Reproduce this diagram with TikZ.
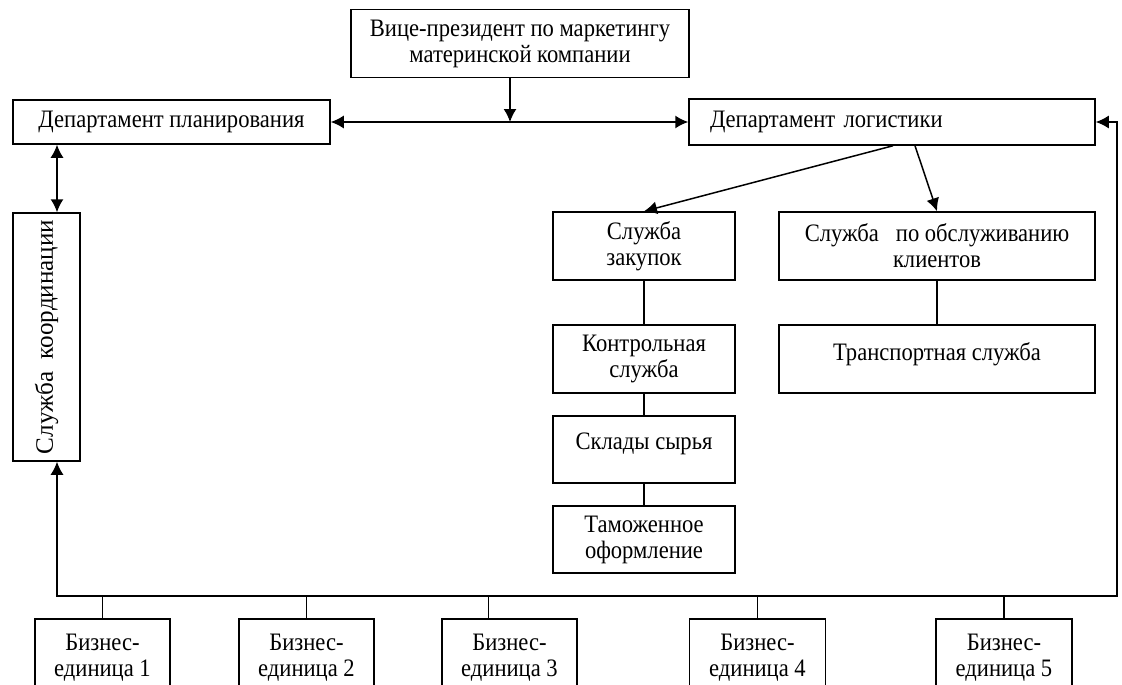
\documentclass[tikz,border=0pt]{standalone}
\usepackage{fontspec}
\setmainfont{Liberation Serif}[FakeStretch=0.9]
\newfontfamily\plainserif{Liberation Serif}
\usepackage{graphicx}
\usetikzlibrary{arrows.meta}

\begin{document}
\begin{tikzpicture}[x=1pt,y=-1pt,
  every node/.style={font=\fontsize{25.1}{26}\selectfont},
  unit/.style={draw, line width=1.5pt, inner sep=0pt, align=center},
  bunit/.style={unit, minimum width=135pt, minimum height=78pt},
  link/.style={line width=1.5pt},
  arr/.style={line width=1.5pt, -{Latex[length=13pt,width=13pt]}},
  darr/.style={line width=1.5pt, {Latex[length=13pt,width=13pt]}-{Latex[length=13pt,width=13pt]}}]

\useasboundingbox (0,0) rectangle (1122,685);
\clip (0,0) rectangle (1122,685);

% top level
\node[unit, minimum width=338pt, minimum height=68pt] (vp) at (520,43.5)
  {Вице-президент по маркетингу\\материнской компании};
\node[unit, minimum width=317pt, minimum height=44pt] (plan) at (171.5,122)
  {Департамент планирования};
\node[unit, inner xsep=21pt, text width=364pt, align=left, minimum height=46pt] (log) at (892,122)
  {Департамент логистики};

% coordination column
\node[unit, minimum width=67pt, minimum height=248pt] (coord) at (46.5,337)
  {\rotatebox{90}{\plainserif Служба\ \ координации}};

% logistics subdivisions
\node[unit, minimum width=182pt, minimum height=68pt] (zak) at (644,246) {Служба\\закупок};
\node[unit, minimum width=316pt, minimum height=68pt] (kli) at (937,246) {Служба\ \ \ по обслуживанию\\клиентов};
\node[unit, minimum width=182pt, minimum height=68pt] (kon) at (644,359) {Контрольная\\служба};
\node[unit, minimum width=316pt, minimum height=68pt] (tra) at (937,359) {Транспортная служба\\[-12pt]~};
\node[unit, minimum width=182pt, minimum height=67pt] (skl) at (644,449.5) {Склады сырья\\[-10pt]~};
\node[unit, minimum width=182pt, minimum height=67pt] (tam) at (644,539.5) {Таможенное\\оформление};

% business units (lower edges run off the page)
\node[bunit] (b1) at (102.5,658) {Бизнес-\\единица 1};
\node[bunit] (b2) at (306.5,658) {Бизнес-\\единица 2};
\node[bunit] (b3) at (509.5,658) {Бизнес-\\единица 3};
\node[bunit, minimum width=136pt] (b4) at (757.5,658) {Бизнес-\\единица 4};
\node[bunit, minimum width=136pt] (b5) at (1004,658) {Бизнес-\\единица 5};

% bus corners
\coordinate (busL) at (57,596);
\coordinate (busR) at (1117,596);

% connectors
\draw[darr] (plan.east) -- (log.west);
\draw[arr] ([xshift=-10pt]vp.south) -- ([xshift=-10pt]vp.south |- plan.east);
\draw[darr] (plan.south -| busL) -- (coord.north -| busL);
\draw[darr] (coord.south -| busL) -- (busL) -- (busR) -- (busR |- log.east) -- (log.east);

\draw[arr] ([xshift=1pt]log.south) -- (zak.north);
\draw[arr] ([xshift=23pt]log.south) -- (kli.north);

\draw[link] (zak) -- (kon);
\draw[link] (kon) -- (skl);
\draw[link] (skl) -- (tam);
\draw[link] (kli) -- (tra);

\draw[link] (b1.north) -- (b1.north |- busL);
\draw[link] (b2.north) -- (b2.north |- busL);
\draw[link] ([xshift=-21pt]b3.north) -- ([xshift=-21pt]b3.north |- busL);
\draw[link] (b4.north) -- (b4.north |- busL);
\draw[link] (b5.north) -- (b5.north |- busL);
\end{tikzpicture}
\end{document}
